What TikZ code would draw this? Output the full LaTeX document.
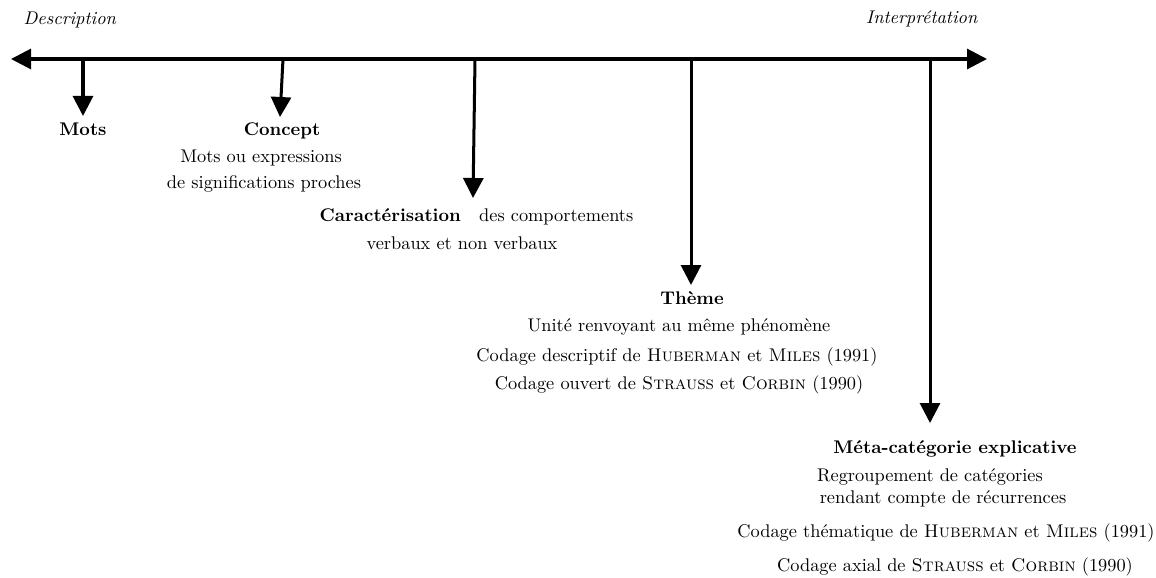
\documentclass[tikz,border=0pt]{standalone}
\usepackage{fontspec}
\usetikzlibrary{arrows.meta}
\begin{document}
\begin{tikzpicture}[x=0.545pt,y=-0.545pt,
  tip/.style={-{Triangle[length=10.9pt,width=10.9pt]}},
  axe/.style={line width=1.64pt,{Triangle[length=10.9pt,width=10.9pt]}-{Triangle[length=10.9pt,width=10.9pt]}},
  fleche/.style={line width=1.64pt,tip},
  lab/.style={anchor=base,inner sep=0pt,font=\fontsize{10}{12}\selectfont}]
\useasboundingbox (0,0) rectangle (1156,578);
% axis
\coordinate (g) at (11,59);
\coordinate (d) at (987,59);
\draw[axe] (g) -- (d);
\node[lab] (desc) at (70,25) {\textit{Description}};
\node[lab] (interp) at (922,24) {\textit{Interprétation}};
% arrows
\coordinate (m0) at (83,59);  \coordinate (m1) at (83,116);
\coordinate (c0) at (283,59); \coordinate (c1) at (280,117);
\coordinate (k0) at (475,59); \coordinate (k1) at (473,198);
\coordinate (t0) at (691,59); \coordinate (t1) at (691,285);
\coordinate (e0) at (930,59); \coordinate (e1) at (930,423);
\draw[fleche] (m0) -- (m1);
\draw[fleche] (c0) -- (c1);
\draw[fleche] (k0) -- (k1);
\draw[fleche] (t0) -- (t1);
\draw[fleche] (e0) -- (e1);
% labels
\node[lab] (mots) at (83,136) {\textbf{Mots}};
\node[lab] (concept) at (282,136) {\textbf{Concept}};
\node[lab] (concept1) at (261,163) {Mots ou expressions};
\node[lab] (concept2) at (264,189) {de significations proches};
\node[lab] (carac) at (476.5,221) {\textbf{Caractérisation}\hspace{10pt}des comportements};
\node[lab] (carac2) at (462,249) {verbaux et non verbaux};
\node[lab] (theme) at (692,304) {\textbf{Thème}};
\node[lab] (theme1) at (679,331) {Unité renvoyant au même phénomène};
\node[lab] (theme2) at (677,361) {Codage descriptif de \textsc{Huberman} et \textsc{Miles} (1991)};
\node[lab] (theme3) at (679,389) {Codage ouvert de \textsc{Strauss} et \textsc{Corbin} (1990)};
\node[lab] (meta) at (955,453) {\textbf{Méta-catégorie explicative}};
\node[lab] (meta1) at (930,481) {Regroupement de catégories};
\node[lab] (meta2) at (943,503) {rendant compte de récurrences};
\node[lab] (meta3) at (946,537) {Codage thématique de \textsc{Huberman} et \textsc{Miles} (1991)};
\node[lab] (meta4) at (955,571) {Codage axial de \textsc{Strauss} et \textsc{Corbin} (1990)};
\end{tikzpicture}
\end{document}
